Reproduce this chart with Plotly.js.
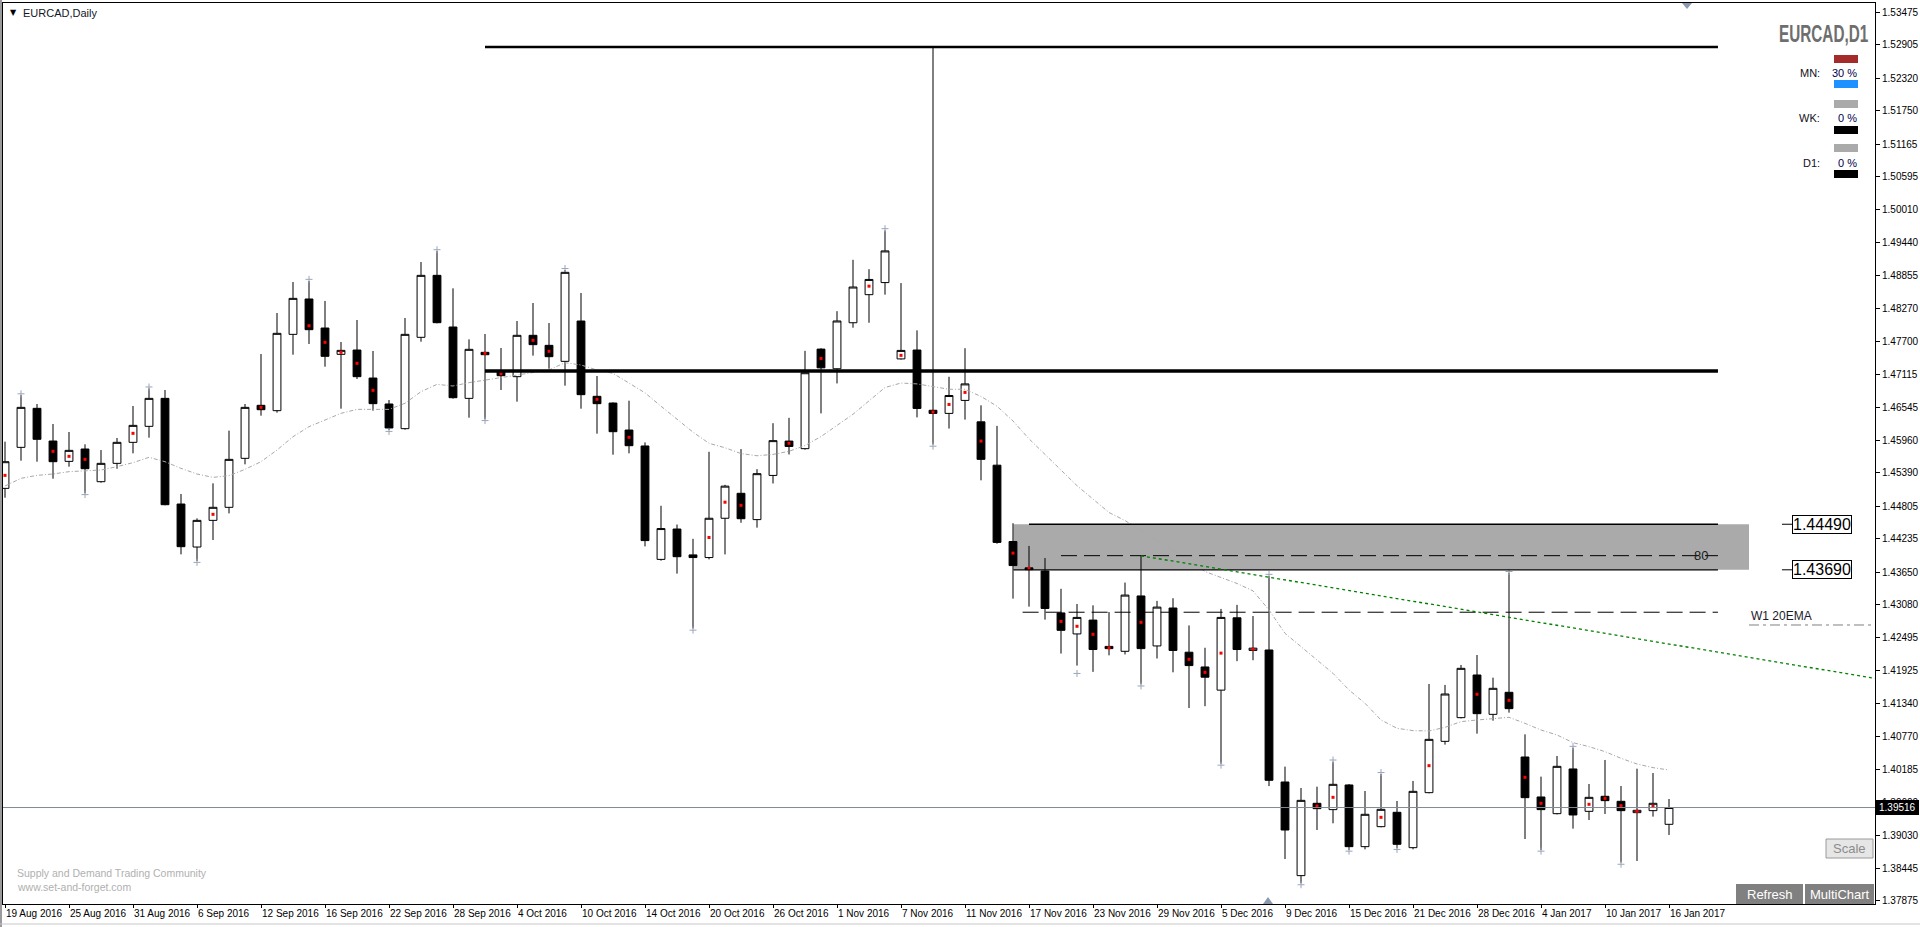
<!DOCTYPE html>
<html>
<head>
<meta charset="utf-8">
<script src="https://cdn.plot.ly/plotly-3.0.1.min.js"></script>
<style>
html,body{margin:0;padding:0;background:#fff;}
#chart{width:1920px;height:927px;}
</style>
</head>
<body>
<div id="chart"></div>
<script>
// ---------------- DATA ----------------
const dates = [
 '2016-08-19','2016-08-22','2016-08-23','2016-08-24','2016-08-25','2016-08-26','2016-08-29','2016-08-30','2016-08-31',
 '2016-09-01','2016-09-02','2016-09-05','2016-09-06','2016-09-07','2016-09-08','2016-09-09','2016-09-12','2016-09-13','2016-09-14','2016-09-15','2016-09-16','2016-09-19','2016-09-20','2016-09-21','2016-09-22','2016-09-23','2016-09-26','2016-09-27','2016-09-28','2016-09-29','2016-09-30',
 '2016-10-03','2016-10-04','2016-10-05','2016-10-06','2016-10-07','2016-10-10','2016-10-11','2016-10-12','2016-10-13','2016-10-14','2016-10-17','2016-10-18','2016-10-19','2016-10-20','2016-10-21','2016-10-24','2016-10-25','2016-10-26','2016-10-27','2016-10-28','2016-10-31',
 '2016-11-01','2016-11-02','2016-11-03','2016-11-04','2016-11-07','2016-11-08','2016-11-09','2016-11-10','2016-11-11','2016-11-14','2016-11-15','2016-11-16','2016-11-17','2016-11-18','2016-11-21','2016-11-22','2016-11-23','2016-11-24','2016-11-25','2016-11-28','2016-11-29','2016-11-30',
 '2016-12-01','2016-12-02','2016-12-05','2016-12-06','2016-12-07','2016-12-08','2016-12-09','2016-12-12','2016-12-13','2016-12-14','2016-12-15','2016-12-16','2016-12-19','2016-12-20','2016-12-21','2016-12-22','2016-12-23','2016-12-27','2016-12-28','2016-12-29','2016-12-30',
 '2017-01-03','2017-01-04','2017-01-05','2017-01-06','2017-01-09','2017-01-10','2017-01-11','2017-01-12','2017-01-13','2017-01-16'
];

const open = [
 1.45120,1.45840,1.46525,1.45951,1.45594,1.45811,1.45237,1.45559,1.45928,1.46209,
 1.46700,1.44845,1.44090,1.44558,1.44787,1.45647,1.46578,1.46484,1.47824,1.48445,
 1.47935,1.47473,1.47549,1.47057,1.46601,1.46168,1.47772,1.48860,1.47953,1.46700,
 1.47508,1.47169,1.47081,1.47807,1.47631,1.47350,1.48058,1.46736,1.46618,1.46144,
 1.45864,1.43873,1.44406,1.43952,1.43905,1.44595,1.45033,1.44571,1.45347,1.45950,
 1.45817,1.47565,1.47220,1.48028,1.48521,1.48733,1.47393,1.47549,1.46491,1.46436,
 1.46664,1.46288,1.45527,1.44187,1.43724,1.43670,1.42933,1.42564,1.42807,1.42345,
 1.42259,1.43231,1.42353,1.43019,1.42243,1.41984,1.41577,1.42847,1.42274,1.42282,
 1.39964,1.38320,1.39590,1.39479,1.39912,1.38829,1.39180,1.39432,1.38811,1.39777,
 1.40678,1.41094,1.41843,1.41152,1.41539,1.40403,1.39701,1.39408,1.40193,1.39449,
 1.39713,1.39625,1.39426,1.39461,1.39221
];
const high = [
 1.45940,1.46759,1.46601,1.46250,1.46109,1.45893,1.45793,1.46004,1.46566,1.46876,
 1.46847,1.45021,1.44593,1.45208,1.46133,1.46601,1.47479,1.48199,1.48743,1.48761,
 1.48410,1.47690,1.48076,1.47532,1.46671,1.48111,1.49094,1.49287,1.48632,1.47736,
 1.47830,1.47584,1.48058,1.48374,1.48023,1.48954,1.48550,1.47093,1.46630,1.46659,
 1.45927,1.44814,1.44485,1.44234,1.45762,1.45182,1.45809,1.45457,1.46264,1.46358,
 1.47534,1.47580,1.48231,1.49133,1.48968,1.49650,1.48725,1.47894,1.52870,1.47079,
 1.47581,1.46578,1.46217,1.44508,1.44109,1.43897,1.43356,1.43090,1.43066,1.42948,
 1.43466,1.43936,1.43144,1.43191,1.42713,1.42321,1.43003,1.43074,1.42878,1.43583,
 1.40234,1.39859,1.39882,1.40321,1.39929,1.39806,1.40105,1.39631,1.39982,1.41685,
 1.41668,1.42019,1.42194,1.41796,1.43640,1.40801,1.40058,1.40421,1.40567,1.39929,
 1.40351,1.39894,1.40198,1.40122,1.39666
];
const low = [
 1.44956,1.45606,1.45588,1.45290,1.45501,1.45032,1.45220,1.45465,1.45735,1.46010,
 1.44822,1.43961,1.43844,1.44213,1.44681,1.45542,1.46396,1.46449,1.47467,1.47655,
 1.47256,1.46519,1.47040,1.46484,1.46144,1.46150,1.47695,1.48017,1.46695,1.46361,
 1.46332,1.46847,1.46642,1.47450,1.47221,1.46923,1.46519,1.46080,1.45711,1.45735,
 1.44101,1.43850,1.43623,1.42659,1.43873,1.43960,1.44516,1.44430,1.45206,1.45715,
 1.45800,1.46436,1.46962,1.47941,1.48028,1.48521,1.47380,1.46366,1.45888,1.46170,
 1.46327,1.45261,1.44148,1.43184,1.43043,1.42815,1.42220,1.42008,1.41898,1.42188,
 1.42204,1.41679,1.42133,1.41890,1.41263,1.41295,1.40284,1.42086,1.42102,1.39892,
 1.38612,1.38185,1.39121,1.39239,1.38770,1.38782,1.39168,1.38800,1.38782,1.39765,
 1.40620,1.41080,1.40813,1.41041,1.41182,1.38963,1.38770,1.39395,1.39145,1.39297,
 1.39402,1.38548,1.38577,1.39356,1.39034
];
const close = [
 1.45588,1.46542,1.45981,1.45588,1.45787,1.45465,1.45559,1.45928,1.46226,1.46700,
 1.44833,1.44096,1.44558,1.44787,1.45629,1.46542,1.46501,1.47842,1.48456,1.47906,
 1.47438,1.47543,1.47081,1.46607,1.46180,1.47824,1.48860,1.48029,1.46712,1.47561,
 1.47467,1.47098,1.47807,1.47643,1.47432,1.48913,1.46765,1.46607,1.46115,1.45869,
 1.44203,1.44414,1.43920,1.43905,1.44595,1.45159,1.44587,1.45378,1.45958,1.45856,
 1.47150,1.47236,1.48059,1.48655,1.48788,1.49289,1.47542,1.46523,1.46436,1.46750,
 1.46954,1.45629,1.44171,1.43764,1.43693,1.43011,1.42627,1.42854,1.42290,1.42306,
 1.43246,1.42306,1.43035,1.42274,1.42008,1.41804,1.42854,1.42290,1.42314,1.39994,
 1.39121,1.39642,1.39496,1.39923,1.38829,1.39397,1.39484,1.38870,1.39800,1.40713,
 1.41509,1.41960,1.41164,1.41609,1.41252,1.39689,1.39479,1.40239,1.39385,1.39695,
 1.39637,1.39461,1.39467,1.39590,1.39516
];
// daily moving average (grey dash-dot line)
const maLine = [
 1.45161,1.45296,1.45348,1.45372,1.45413,1.45425,1.45442,1.45501,1.45571,1.45665,
 1.45588,1.45471,1.45372,1.45313,1.45343,1.45454,1.45588,1.45793,1.46027,1.46203,
 1.46320,1.46437,1.46507,1.46507,1.46507,1.46613,1.46818,1.46946,1.46917,1.46976,
 1.47023,1.47064,1.47110,1.47151,1.47198,1.47327,1.47286,1.47198,1.47139,1.46969,
 1.46797,1.46562,1.46342,1.46107,1.45911,1.45833,1.45731,1.45692,1.45716,1.45770,
 1.45872,1.46029,1.46225,1.46421,1.46656,1.46891,1.46969,1.46954,1.46907,1.46860,
 1.46860,1.46734,1.46562,1.46303,1.45990,1.45716,1.45441,1.45167,1.44932,1.44696,
 1.44555,1.44380,1.44200,1.44030,1.43860,1.43660,1.43560,1.43450,1.43320,1.42984,
 1.42575,1.42341,1.42107,1.41872,1.41580,1.41346,1.41053,1.40907,1.40866,1.40860,
 1.40924,1.41024,1.41053,1.41082,1.41100,1.40994,1.40877,1.40790,1.40655,1.40585,
 1.40497,1.40380,1.40280,1.40216,1.40175
];
// red indicator dots
const dotDates = ['2016-08-19','2016-08-24','2016-08-25','2016-08-26','2016-08-31','2016-09-07','2016-09-12','2016-09-15','2016-09-16','2016-09-19','2016-09-20','2016-09-21','2016-09-30','2016-10-03','2016-10-05','2016-10-06','2016-10-11','2016-10-13','2016-10-20','2016-10-21','2016-10-24','2016-10-27','2016-10-31','2016-11-03','2016-11-07','2016-11-09','2016-11-10','2016-11-11','2016-11-14','2016-11-16','2016-11-17','2016-11-21','2016-11-22','2016-11-23','2016-11-24','2016-11-28','2016-12-01','2016-12-02','2016-12-05','2016-12-07','2016-12-13','2016-12-14','2016-12-19','2016-12-22','2016-12-28','2016-12-30','2017-01-03','2017-01-04','2017-01-09','2017-01-10','2017-01-11','2017-01-12','2017-01-13'];
const dotPrice = [1.45348,1.45770,1.45682,1.45629,1.46086,1.44664,1.46542,1.47975,1.47684,1.47508,1.47315,1.46841,1.47491,1.47134,1.47719,1.47526,1.46683,1.46016,1.44257,1.44877,1.44822,1.45911,1.47401,1.48670,1.47455,1.46460,1.46593,1.46805,1.45950,1.43983,1.43717,1.42784,1.42698,1.42557,1.42321,1.42768,1.42118,1.41890,1.42227,1.42298,1.39543,1.39695,1.39344,1.40251,1.41504,1.41398,1.40046,1.39590,1.39572,1.39677,1.39549,1.39449,1.39537];
// fractal markers
const fracUpDates = ['2016-08-22','2016-09-01','2016-09-15','2016-09-27','2016-10-07','2016-11-04','2016-12-08','2016-12-14','2016-12-19','2016-12-30','2017-01-06'];
const fracUpPrice = [1.46780,1.46900,1.48790,1.49310,1.48980,1.49680,1.43610,1.40350,1.40130,1.43660,1.40590];
const fracDnDates = ['2016-08-26','2016-09-06','2016-09-22','2016-09-30','2016-10-19','2016-11-09','2016-11-22','2016-11-28','2016-12-05','2016-12-12','2016-12-15','2016-12-20','2017-01-04','2017-01-11'];
const fracDnPrice = [1.45010,1.43820,1.46120,1.46310,1.42630,1.45860,1.41870,1.41650,1.40260,1.38160,1.38750,1.38780,1.38750,1.38520];

const tickLabels = ['19 Aug 2016','25 Aug 2016','31 Aug 2016','6 Sep 2016','12 Sep 2016','16 Sep 2016','22 Sep 2016','28 Sep 2016','4 Oct 2016','10 Oct 2016','14 Oct 2016','20 Oct 2016','26 Oct 2016','1 Nov 2016','7 Nov 2016','11 Nov 2016','17 Nov 2016','23 Nov 2016','29 Nov 2016','5 Dec 2016','9 Dec 2016','15 Dec 2016','21 Dec 2016','28 Dec 2016','4 Jan 2017','10 Jan 2017','16 Jan 2017'];
const tickDates = ['2016-08-19','2016-08-25','2016-08-31','2016-09-06','2016-09-12','2016-09-16','2016-09-22','2016-09-28','2016-10-04','2016-10-10','2016-10-14','2016-10-20','2016-10-26','2016-11-01','2016-11-07','2016-11-11','2016-11-17','2016-11-23','2016-11-29','2016-12-05','2016-12-09','2016-12-15','2016-12-21','2016-12-28','2017-01-04','2017-01-10','2017-01-16'];
const priceTicks = [1.53475,1.52905,1.52320,1.51750,1.51165,1.50595,1.50010,1.49440,1.48855,1.48270,1.47700,1.47115,1.46545,1.45960,1.45390,1.44805,1.44235,1.43650,1.43080,1.42495,1.41925,1.41340,1.40770,1.40185,1.39600,1.39030,1.38445,1.37875];

// levels
const levelTop = 1.52870;
const levelMid = 1.47180;
const zoneHigh = 1.44490;
const zoneLow = 1.43690;
const level80 = 1.43938;
const levelW1 = 1.42945;
const levelW1Right = 1.42721;
const lastPrice = 1.39516;
const trendStart = {date:'2016-11-28', price:1.43936};
const trendEndPrice = 1.41783;

// ---------------- BUILD ----------------
const idx = d => dates.indexOf(d);
const xs = dates.map((d,i)=>i);
const W=1920,H=927, L=3, T=3, R=1875, B=904;
const px = x => (x-L)/(R-L);
const py = y => 1-(y-T)/(B-T);
const FONT = 'Liberation Sans, Arial, sans-serif';
const xEnd = 116.875;

const traces = [
 {type:'candlestick', x:xs, open:open, high:high, low:low, close:close,
  increasing:{line:{color:'#000',width:1}, fillcolor:'#ffffff'},
  decreasing:{line:{color:'#000',width:1}, fillcolor:'#000000'},
  whiskerwidth:0, hoverinfo:'skip', showlegend:false},
 {type:'scatter', mode:'lines', x:xs, y:maLine, line:{color:'#a8a8a8', width:1, dash:'4px,2px,1px,2px'}, hoverinfo:'skip'},
 {type:'scatter', mode:'markers', x:dotDates.map(idx), y:dotPrice, marker:{symbol:'square', size:3, color:'#ff0000'}, hoverinfo:'skip'},
 {type:'scatter', mode:'markers', x:fracUpDates.map(idx), y:fracUpPrice, marker:{symbol:'cross-thin', size:5, line:{color:'#9aa6b8', width:1}}, hoverinfo:'skip'},
 {type:'scatter', mode:'markers', x:fracDnDates.map(idx), y:fracDnPrice, marker:{symbol:'cross-thin', size:5, line:{color:'#9aa6b8', width:1}}, hoverinfo:'skip'}
];

const hline = (x0,x1,y,color,width,dash,layer) => ({type:'line', xref:'x', yref:'y', x0:x0, x1:x1, y0:y, y1:y, line:{color:color,width:width,dash:dash||'solid'}, layer:layer||'above'});
const prect = (x0,y0,x1,y1,fill,lc,lw) => ({type:'rect', xref:'paper', yref:'paper', x0:px(x0), x1:px(x1), y0:py(y1), y1:py(y0), fillcolor:fill, line:{color:lc||fill, width:lw||0}, layer:'above'});

const shapes = [
 {type:'rect', xref:'x', yref:'y', x0:63.03, x1:109.0, y0:zoneLow, y1:zoneHigh, fillcolor:'#aaaaaa', line:{width:0}, layer:'below'},
 hline(30, 107.06, levelTop, '#000', 2.5),
 hline(30, 107.06, levelMid, '#000', 3.5),
 hline(64, 107.06, zoneHigh, '#000', 1.3),
 hline(63.03, 107.06, zoneLow, '#000', 1.3),
 hline(66, 107.06, level80, '#000', 1, '16px,7px'),
 hline(63.6, 107.06, levelW1, '#000', 1, '16px,7px'),
 hline(109.0, xEnd, levelW1Right, '#808080', 1, '10px,4px,3px,4px'),
 hline(111.06, 111.7, zoneHigh, '#000', 1),
 hline(111.06, 111.7, zoneLow, '#000', 1),
 hline(-0.125, xEnd, lastPrice, '#7f8a98', 1),
 {type:'line', xref:'x', yref:'y', x0:idx(trendStart.date), y0:trendStart.price, x1:xEnd, y1:trendEndPrice, line:{color:'#008000', width:1.3, dash:'dot'}, layer:'above'},
 // info panel bars
 prect(1834,55,1858,63,'#a52a2a'),
 prect(1834,80,1858,88,'#1e90ff'),
 prect(1834,100,1858,108,'#aaaaaa'),
 prect(1834,126,1858,134,'#000000'),
 prect(1834,144,1858,152,'#aaaaaa'),
 prect(1834,170,1858,178,'#000000'),
 // buttons
 prect(1826,839,1873,858,'#e6e6e6','#9a9a9a',1),
 prect(1736,884,1803,904,'#808080'),
 prect(1805,884,1874,904,'#808080'),
 // last price tag
 prect(1876,800,1919,815,'#000000'),
 // small triangles
 {type:'path', xref:'paper', yref:'paper', path:`M ${px(1263)} ${py(904)} L ${px(1273)} ${py(904)} L ${px(1268)} ${py(897)} Z`, fillcolor:'#8a9bb0', line:{width:0}, layer:'above'},
 {type:'path', xref:'paper', yref:'paper', path:`M ${px(1682)} ${py(3)} L ${px(1692)} ${py(3)} L ${px(1687)} ${py(9)} Z`, fillcolor:'#8a9bb0', line:{width:0}, layer:'above'},
 // left window edge
 prect(0,0,2,927,'#9a9a9a'),
 // bottom window edge
 {type:'line', xref:'paper', yref:'paper', x0:px(0), x1:px(1920), y0:py(924), y1:py(924), line:{color:'#c8c8c8', width:1}}
];

const pann = (x,y,text,opts) => Object.assign({xref:'paper', yref:'paper', x:px(x), y:py(y), text:text, showarrow:false, xanchor:'left', yanchor:'middle', font:{family:FONT, size:11, color:'#000'}}, opts||{});

const annotations = [
 pann(8,12.5,'▼',{font:{family:'DejaVu Sans', size:8, color:'#000'}}),
 pann(21,12.5,'EURCAD,Daily',{font:{family:FONT, size:11, color:'#101828'}}),
 pann(1871,33.5,'<b>EURCAD,D1</b>',{xanchor:'right', font:{family:FONT, size:15.3, color:'#6e6e6e'}}),
 pann(1822,72.5,'MN:',{xanchor:'right', font:{family:FONT, size:11, color:'#101020'}}),
 pann(1859,72.5,'30 %',{xanchor:'right', font:{family:FONT, size:11, color:'#000050'}}),
 pann(1822,117.5,'WK:',{xanchor:'right', font:{family:FONT, size:11, color:'#101020'}}),
 pann(1859,117.5,'0 %',{xanchor:'right', font:{family:FONT, size:11, color:'#000050'}}),
 pann(1822,162.5,'D1:',{xanchor:'right', font:{family:FONT, size:11, color:'#101020'}}),
 pann(1859,162.5,'0 %',{xanchor:'right', font:{family:FONT, size:11, color:'#000050'}}),
 pann(15,873,'Supply and Demand Trading Community',{font:{family:FONT, size:10.5, color:'#b0b0b0'}}),
 pann(15,887,'www.set-and-forget.com',{font:{family:FONT, size:10.5, color:'#b0b0b0'}}),
 pann(1849.5,848.5,'Scale',{xanchor:'center', font:{family:FONT, size:13, color:'#8c8c8c'}}),
 pann(1769.5,894,'Refresh',{xanchor:'center', font:{family:FONT, size:13, color:'#ffffff'}}),
 pann(1839.5,894,'MultiChart',{xanchor:'center', font:{family:FONT, size:13, color:'#ffffff'}}),
 pann(1897.5,807.5,lastPrice.toFixed(5),{xanchor:'center', font:{family:FONT, size:10, color:'#ffffff'}}),
 {xref:'x', yref:'y', x:113.56, y:zoneHigh, text:zoneHigh.toFixed(5), showarrow:false, xanchor:'center', yanchor:'middle', font:{family:FONT, size:16, color:'#000'}, bgcolor:'#fff', bordercolor:'#000', borderwidth:1, borderpad:0},
 {xref:'x', yref:'y', x:113.56, y:zoneLow, text:zoneLow.toFixed(5), showarrow:false, xanchor:'center', yanchor:'middle', font:{family:FONT, size:16, color:'#000'}, bgcolor:'#fff', bordercolor:'#000', borderwidth:1, borderpad:0},
 {xref:'x', yref:'y', x:106.0, y:level80, text:'80', showarrow:false, xanchor:'center', yanchor:'middle', font:{family:FONT, size:13, color:'#1a1a1a'}},
 {xref:'x', yref:'y', x:109.0, y:1.42879, text:'W1 20EMA', showarrow:false, xanchor:'left', yanchor:'middle', font:{family:FONT, size:12, color:'#1a1a2a'}}
];

const layout = {
 width:W, height:H,
 margin:{l:L, r:W-R, t:T, b:H-B, pad:0},
 paper_bgcolor:'#ffffff', plot_bgcolor:'#ffffff',
 showlegend:false, hovermode:false, dragmode:false,
 xaxis:{
  type:'linear', range:[-0.125, xEnd],
  tickvals: tickDates.map(idx), ticktext: tickLabels,
  tickangle:0,
  ticks:'outside', ticklen:3, tickcolor:'#000', tickwidth:1,
  ticklabelposition:'outside right',
  tickfont:{family:FONT, size:10, color:'#000'},
  showline:true, linecolor:'#000', linewidth:1, mirror:true,
  showgrid:false, zeroline:false, rangeslider:{visible:false}, fixedrange:true
 },
 yaxis:{
  side:'right', range:[1.37822, 1.53642],
  tickvals: priceTicks, ticktext: priceTicks.map(v=>v.toFixed(5)),
  ticks:'outside', ticklen:4, tickcolor:'#000', tickwidth:1,
  tickfont:{family:FONT, size:10, color:'#000'},
  showline:true, linecolor:'#000', linewidth:1, mirror:true,
  showgrid:false, zeroline:false, fixedrange:true
 },
 shapes:shapes,
 annotations:annotations
};

Plotly.newPlot('chart', traces, layout, {displayModeBar:false, staticPlot:true}).then(gd => {
 // stretch the symbol badge vertically to mimic the tall narrow bold font of the original
 gd.querySelectorAll('.annotation-text').forEach(t => {
  if (t.textContent === 'EURCAD,D1') {
   const bb = t.getBBox();
   const cy = bb.y + bb.height/2;
   const prev = t.getAttribute('transform') || '';
   t.setAttribute('transform', `${prev} translate(0 ${cy}) scale(1 1.55) translate(0 ${-cy})`.trim());
  }
 });
});
</script>
</body>
</html>
